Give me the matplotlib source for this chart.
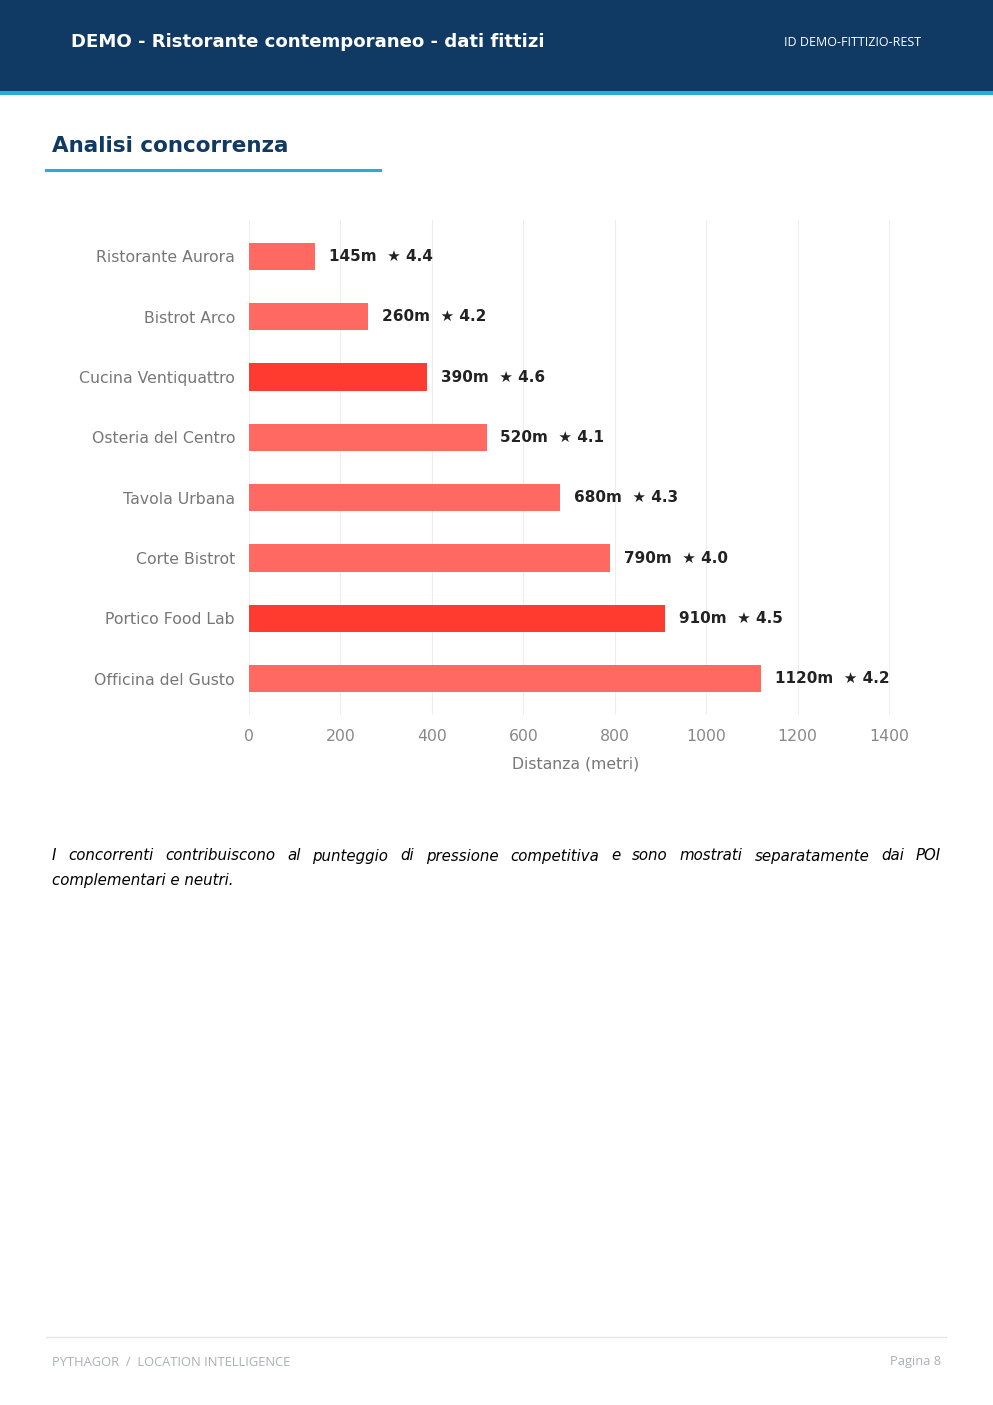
import matplotlib
matplotlib.use("Agg")
import matplotlib.pyplot as plt
from matplotlib.patches import Rectangle
from matplotlib.lines import Line2D

plt.rcParams["font.family"] = ["DejaVu Sans"]

names = ["Ristorante Aurora", "Bistrot Arco", "Cucina Ventiquattro", "Osteria del Centro",
         "Tavola Urbana", "Corte Bistrot", "Portico Food Lab", "Officina del Gusto"]
dist = [145, 260, 390, 520, 680, 790, 910, 1120]
rating = [4.4, 4.2, 4.6, 4.1, 4.3, 4.0, 4.5, 4.2]
xticks = [0, 200, 400, 600, 800, 1000, 1200, 1400]

NAVY = "#103a63"
BLUE = "#29abe2"
W, H = 993, 1405

fig = plt.figure(figsize=(W / 100, H / 100), dpi=100)


def px(x, y):
    return x / W, 1 - y / H


# header
fig.add_artist(Rectangle((0, 1 - 91 / H), 1, 91 / H, transform=fig.transFigure, color=NAVY, lw=0))
fig.add_artist(Rectangle((0, 1 - 95 / H), 1, 4 / H, transform=fig.transFigure, color=BLUE, lw=0))
fig.text(*px(71, 42), "DEMO - Ristorante contemporaneo - dati fittizi", color="white",
         fontsize=13.1, weight="bold", va="center")
fig.text(*px(921, 42), "ID DEMO-FITTIZIO-REST", color="white", fontsize=9, va="center",
         ha="right", family="Open Sans")

# section title
fig.text(*px(52, 146), "Analisi concorrenza", color=NAVY, fontsize=15.5, weight="bold", va="center")
fig.add_artist(Line2D([46 / W, 380 / W], [1 - 170 / H] * 2, transform=fig.transFigure, color=BLUE, lw=2.2))

# chart
ax = fig.add_axes([249 / W, 1 - 715 / H, (889 - 249) / W * 1430 / 1400, (715 - 220) / H])
ypos = list(range(len(names)))
cols = ["#ff3b30" if r >= 4.5 else "#ff6961" for r in rating]
ax.barh(ypos, dist, height=0.45, color=cols, zorder=2)
for y, d, r in zip(ypos, dist, rating):
    ax.text(d + 30, y, f"{d}m  \u2605 {r:.1f}", va="center", ha="left", fontsize=11,
            weight="bold", color="#222222")
ax.set_xlim(0, 1430)
ax.set_ylim(len(names) - 0.4, -0.6)
ax.set_yticks(ypos)
ax.set_yticklabels(names, fontsize=11.3, color="#777777")
ax.set_xticks(xticks)
ax.set_xticklabels([str(t) for t in xticks], fontsize=11.3, color="#888888")
ax.tick_params(length=0, pad=10)
ax.grid(axis="x", color="#eeeeee", lw=0.8, zorder=0)
for s in ax.spines.values():
    s.set_visible(False)
ax.set_xlabel("Distanza (metri)", fontsize=11.3, color="#777777", labelpad=9)

# caption, justified first line
line1 = ("I concorrenti contribuiscono al punteggio di pressione competitiva e sono "
         "mostrati separatamente dai POI").split()
renderer = fig.canvas.get_renderer()
txts = [fig.text(0, 1 - 856 / H, w, fontsize=10.8, style="italic", va="center") for w in line1]
widths = [t.get_window_extent(renderer).width for t in txts]
gap = (941 - 52 - sum(widths)) / (len(line1) - 1)
x = 52
for t, w in zip(txts, widths):
    t.set_x(x / W)
    x += w + gap
fig.text(*px(52, 880), "complementari e neutri.", fontsize=10.8, style="italic", va="center")

# footer
fig.add_artist(Line2D([46 / W, 946 / W], [1 - 1337 / H] * 2, transform=fig.transFigure, color="#e6e6e6", lw=1))
fig.text(*px(52, 1362), "PYTHAGOR  /  LOCATION INTELLIGENCE", fontsize=9.3, color="#aab0b8",
         va="center", family="Open Sans")
fig.text(*px(941, 1362), "Pagina 8", fontsize=9.3, color="#aab0b8", va="center", ha="right",
         family="Open Sans")

fig.savefig("out.png", dpi=100)
